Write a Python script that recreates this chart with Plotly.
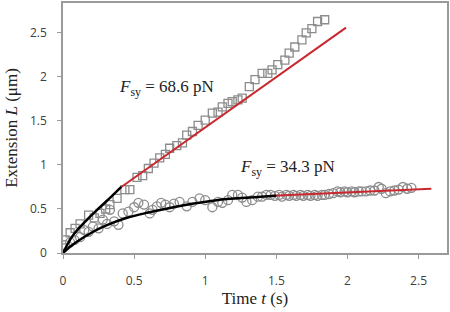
import plotly.graph_objects as go

# Squares: F_sy = 68.6 pN
sq_t = [0.015,0.05,0.085,0.12,0.18,0.22,0.26,0.30,0.33,0.38,0.435,0.47,0.52,0.56,0.6,
        0.64,0.68,0.72,0.75,0.80,0.84,0.87,0.91,0.95,1.0,1.05,1.09,1.12,1.16,1.19,
        1.23,1.26,1.31,1.35,1.40,1.44,1.47,1.51,1.56,1.59,1.63,1.68,1.71,1.75,1.79,1.84]
sq_L = [0.15,0.23,0.28,0.33,0.43,0.40,0.45,0.50,0.55,0.62,0.72,0.72,0.86,0.88,0.96,
        1.02,1.08,1.12,1.19,1.22,1.25,1.34,1.38,1.45,1.51,1.59,1.60,1.66,1.70,1.72,
        1.74,1.76,1.89,1.97,2.04,2.04,2.08,2.14,2.19,2.27,2.34,2.42,2.50,2.55,2.63,2.65]

# Circles: F_sy = 34.3 pN
c_t = [0.015,0.05,0.08,0.12,0.15,0.18,0.21,0.25,0.28,0.31,0.33,0.36,0.39,0.42,0.46,
       0.50,0.53,0.57,0.61,0.63,0.66,0.69,0.72,0.75,0.78,0.82,0.87,0.91,0.96,1.0,
       1.05,1.09,1.12,1.16,1.19,1.23,1.26,1.29,1.33,1.37,1.40,1.43,1.46,
       1.49,1.52,1.54,1.57,1.59,1.62,1.64,1.67,1.69,1.72,1.74,1.77,1.79,1.82,1.84,
       1.87,1.90,1.93,1.95,1.98,2.00,2.03,2.05,2.08,2.10,2.13,2.16,2.19,2.22,2.24,
       2.27,2.30,2.33,2.36,2.39,2.42,2.45]
c_L = [0.09,0.12,0.15,0.18,0.26,0.24,0.30,0.28,0.38,0.33,0.49,0.36,0.32,0.45,0.47,
       0.52,0.57,0.55,0.45,0.49,0.53,0.57,0.55,0.52,0.56,0.58,0.53,0.58,0.62,0.60,
       0.52,0.58,0.57,0.60,0.66,0.66,0.63,0.58,0.60,0.64,0.64,0.66,0.66,
       0.65,0.66,0.64,0.66,0.65,0.66,0.65,0.66,0.65,0.66,0.65,0.66,0.65,0.66,0.66,
       0.67,0.68,0.70,0.69,0.70,0.69,0.70,0.69,0.70,0.70,0.70,0.71,0.71,0.75,0.73,
       0.68,0.70,0.71,0.72,0.75,0.73,0.74]

# Fit curves
fit_sq_early_t = [0, 0.07, 0.17, 0.26, 0.34, 0.41]
fit_sq_early_L = [0, 0.20, 0.38, 0.52, 0.64, 0.75]
fit_sq_lin_t = [0.41, 1.99]
fit_sq_lin_L = [0.75, 2.56]
fit_c_early_t = [0, 0.05, 0.1, 0.2, 0.3, 0.45, 0.6, 0.84, 1.08, 1.31, 1.5]
fit_c_early_L = [0, 0.07, 0.13, 0.23, 0.31, 0.40, 0.46, 0.54, 0.60, 0.63, 0.65]
fit_c_lin_t = [1.47, 2.59]
fit_c_lin_L = [0.65, 0.73]

x_ticks = [0, 0.5, 1, 1.5, 2, 2.5]
y_ticks = [0, 0.5, 1, 1.5, 2, 2.5]

mk_col = "#8c8c8c"
fig = go.Figure()
fig.add_trace(go.Scatter(x=sq_t, y=sq_L, mode="markers",
                         marker=dict(symbol="square-open", size=8, color=mk_col,
                                     line=dict(width=1.3, color=mk_col))))
fig.add_trace(go.Scatter(x=c_t, y=c_L, mode="markers",
                         marker=dict(symbol="circle-open", size=9, color=mk_col,
                                     line=dict(width=1.3, color=mk_col))))
red = "#c8282e"
fig.add_trace(go.Scatter(x=fit_sq_lin_t, y=fit_sq_lin_L, mode="lines",
                         line=dict(color=red, width=2)))
fig.add_trace(go.Scatter(x=fit_c_lin_t, y=fit_c_lin_L, mode="lines",
                         line=dict(color=red, width=2)))
fig.add_trace(go.Scatter(x=fit_sq_early_t, y=fit_sq_early_L, mode="lines",
                         line=dict(color="black", width=2.5, shape="spline")))
fig.add_trace(go.Scatter(x=fit_c_early_t, y=fit_c_early_L, mode="lines",
                         line=dict(color="black", width=2.5, shape="spline")))

serif = "Liberation Serif"
tickfont = dict(family="Open Sans", size=12, color="#404040")
axcol = "#9a9a9a"
fig.update_layout(
    width=450, height=312, showlegend=False,
    margin=dict(l=63, r=3, t=3, b=59, autoexpand=False),
    paper_bgcolor="white", plot_bgcolor="white",
    xaxis=dict(range=[0, 2.7], tickvals=x_ticks, ticktext=[str(v) for v in x_ticks],
               showgrid=False, zeroline=False, showline=True, mirror=True,
               linecolor=axcol, linewidth=1.5, ticks="outside", ticklen=4,
               tickcolor=axcol, tickfont=tickfont, ticklabelstandoff=12,
               title=dict(text="Time <i>t</i> (s)", font=dict(family=serif, size=17, color="#222"),
                          standoff=0)),
    yaxis=dict(range=[0, 2.84], tickvals=y_ticks, ticktext=[str(v) for v in y_ticks],
               showgrid=False, zeroline=False, showline=True, mirror=True,
               linecolor=axcol, linewidth=1.5, ticks="outside", ticklen=4,
               tickcolor=axcol, tickfont=tickfont, ticklabelstandoff=8,
               title=dict(text="Extension <i>L</i> (μm)", font=dict(family=serif, size=17, color="#222"),
                          standoff=8)),
    annotations=[
        dict(x=0.73, y=1.87, xref="x", yref="y", showarrow=False,
             text="<i>F</i><sub>sy</sub> = 68.6 pN",
             font=dict(family=serif, size=17, color="#222")),
        dict(x=1.58, y=0.97, xref="x", yref="y", showarrow=False,
             text="<i>F</i><sub>sy</sub> = 34.3 pN",
             font=dict(family=serif, size=17, color="#222")),
    ],
)
fig.write_html("out.html", config={"displayModeBar": False},
               post_script="document.body.style.margin='0';")
